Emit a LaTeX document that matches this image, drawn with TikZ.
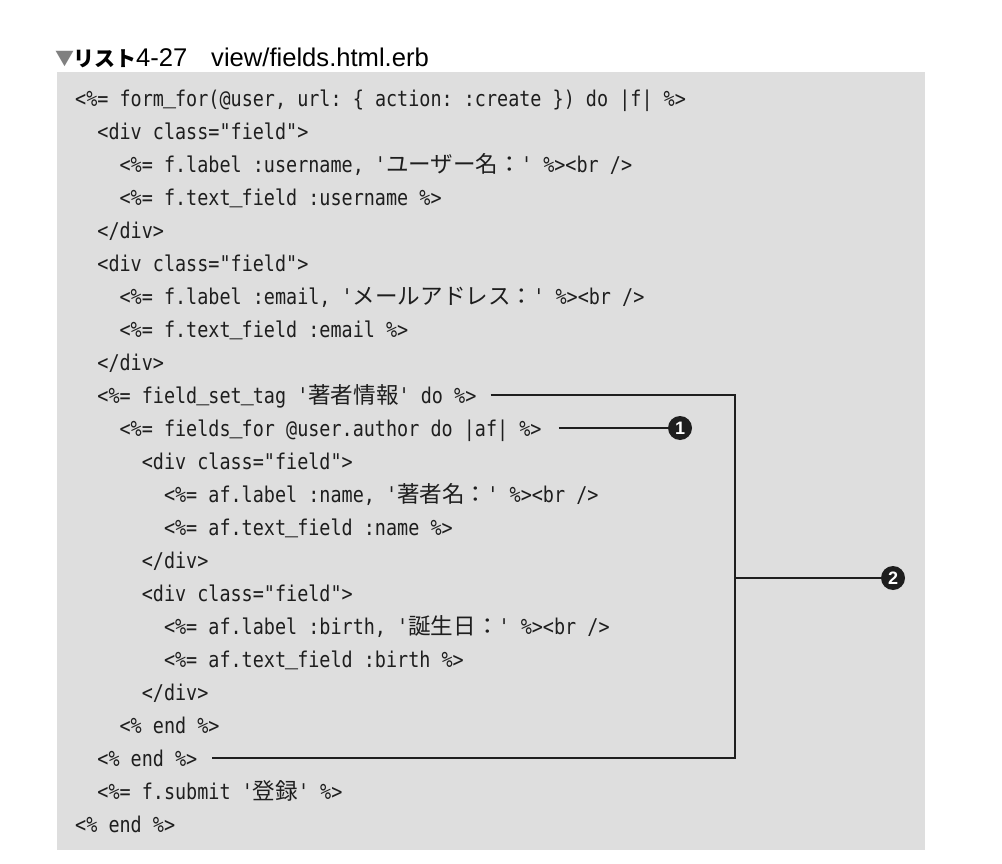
\documentclass[tikz,border=0pt]{standalone}
\usepackage{fontspec}
\setmainfont{Liberation Sans}
\setmonofont[FakeStretch=0.85]{DejaVu Sans Mono}
\newfontfamily\jp[Scale=1.04]{Noto Sans CJK JP}
\newfontfamily\jptitre{Noto Sans CJK JP}
\newfontfamily\soulign{Liberation Mono}
\newcommand\us{\makebox[11.1pt]{\soulign\char"5F}}
\usetikzlibrary{calc}

\definecolor{fondcode}{RGB}{222,222,222}
\definecolor{encre}{RGB}{30,30,30}

\tikzset{
  code/.style={anchor=west,inner sep=0pt,text height=22pt,text depth=5.4pt,text=encre,
    font=\ttfamily\frenchspacing\fontsize{21.7}{30}\selectfont},
  accolade/.style={line width=2pt,draw=encre},
  puce/.style={circle,fill=encre,text=white,inner sep=0pt,minimum size=24pt,
    font=\bfseries\fontsize{18}{18}\selectfont}
}

\begin{document}
\begin{tikzpicture}[x=1pt,y=-1pt]
    \useasboundingbox (0,0) rectangle (1002,864);

    % Dessine le titre
    \node[anchor=base west,inner sep=0pt,text=black!50,font=\jptitre\fontsize{19}{19}\selectfont] (tri) at (55,66) {▼};
    \node[anchor=base west,inner sep=0pt,font=\jptitre\bfseries\fontsize{21}{22}\selectfont] (liste) at (73,67) {リスト};
    \node[anchor=base west,inner sep=0pt,font=\fontsize{25.6}{26}\selectfont] (numero) at (136,67) {4-27};
    \node[anchor=base west,inner sep=0pt,font=\fontsize{25.6}{26}\selectfont] (fichier) at (211,67) {view/fields.html.erb};

    % Dessine le fond du listing
    \fill[fondcode] (57,72) rectangle (925,850);

    % Les lignes du code
    \node[code] (l1) at (75,98) {<\%= form\us for(@user, url: \{ action: :create \}) do |f| \%>};
    \node[code] (l2) at (97.2,131) {<div class="field">};
    \node[code] (l3) at (119.4,164) {<\%= f.label :username, '{\jp ユーザー名：}' \%><br />};
    \node[code] (l4) at (119.4,197) {<\%= f.text\us field :username \%>};
    \node[code] (l5) at (97.2,230) {</div>};
    \node[code] (l6) at (97.2,263) {<div class="field">};
    \node[code] (l7) at (119.4,296) {<\%= f.label :email, '{\jp メールアドレス：}' \%><br />};
    \node[code] (l8) at (119.4,329) {<\%= f.text\us field :email \%>};
    \node[code] (l9) at (97.2,362) {</div>};
    \node[code] (l10) at (97.2,395) {<\%= field\us set\us tag '{\jp 著者情報}' do \%>};
    \node[code] (l11) at (119.4,428) {<\%= fields\us for @user.author do |af| \%>};
    \node[code] (l12) at (141.6,461) {<div class="field">};
    \node[code] (l13) at (163.8,494) {<\%= af.label :name, '{\jp 著者名：}' \%><br />};
    \node[code] (l14) at (163.8,527) {<\%= af.text\us field :name \%>};
    \node[code] (l15) at (141.6,560) {</div>};
    \node[code] (l16) at (141.6,593) {<div class="field">};
    \node[code] (l17) at (163.8,626) {<\%= af.label :birth, '{\jp 誕生日：}' \%><br />};
    \node[code] (l18) at (163.8,659) {<\%= af.text\us field :birth \%>};
    \node[code] (l19) at (141.6,692) {</div>};
    \node[code] (l20) at (119.4,725) {<\% end \%>};
    \node[code] (l21) at (97.2,758) {<\% end \%>};
    \node[code] (l22) at (97.2,791) {<\%= f.submit '{\jp 登録}' \%>};
    \node[code] (l23) at (75,824) {<\% end \%>};

    % Dessine les repères
    \node[puce] (c1) at (680,428) {1};
    \node[puce] (c2) at (893,578) {2};
    \coordinate (bx) at (735,0);

    \draw[accolade] ([xshift=17pt]l11.east) -- (c1);
    \draw[accolade] ([xshift=14pt]l10.east) -- (l10.east -| bx) |- ([xshift=14pt]l21.east);
    \draw[accolade] (c2 -| bx) -- (c2); % branche vers 2

\end{tikzpicture}
\end{document}
